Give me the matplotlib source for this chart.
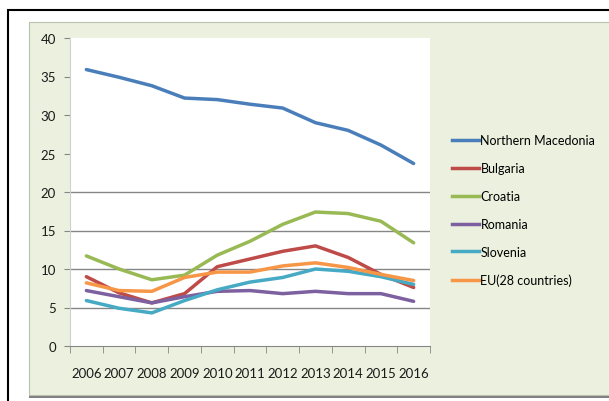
import matplotlib
matplotlib.use("Agg")
import matplotlib.pyplot as plt
from matplotlib.patches import Rectangle
from matplotlib.lines import Line2D
import numpy as np

years = ["2006", "2007", "2008", "2009", "2010", "2011",
         "2012", "2013", "2014", "2015", "2016"]

north_macedonia = [35.9, 34.9, 33.8, 32.2, 32.0, 31.4, 30.9, 29.0, 28.0, 26.1, 23.7]
bulgaria = [9.0, 6.9, 5.6, 6.8, 10.3, 11.3, 12.3, 13.0, 11.5, 9.3, 7.6]
croatia = [11.7, 10.0, 8.6, 9.2, 11.8, 13.6, 15.8, 17.4, 17.2, 16.2, 13.4]
romania = [7.2, 6.4, 5.6, 6.4, 7.1, 7.2, 6.8, 7.1, 6.8, 6.8, 5.8]
slovenia = [5.9, 4.9, 4.3, 5.9, 7.3, 8.3, 8.9, 10.0, 9.7, 9.0, 8.0]
eu28 = [8.2, 7.2, 7.1, 8.9, 9.6, 9.6, 10.4, 10.8, 10.2, 9.3, 8.5]

series = [
    ("Northern Macedonia", north_macedonia, "#4A7EBB"),
    ("Bulgaria", bulgaria, "#BE4B48"),
    ("Croatia", croatia, "#98B954"),
    ("Romania", romania, "#7D60A0"),
    ("Slovenia", slovenia, "#46AAC5"),
    ("EU(28 countries)", eu28, "#F79646"),
]

plt.rcParams['font.family'] = ['Lato', 'DejaVu Sans']

fig = plt.figure(figsize=(6.09, 4.02), dpi=100)
W, H = 609.0, 402.0

# outer frame and green chart area with a grey shadow underneath
fig.patches.append(Rectangle((8 / W, -0.1), 1, 1.1 - 11 / H, transform=fig.transFigure,
                             facecolor="white", edgecolor="black", linewidth=1.5, zorder=0))
fig.patches.append(Rectangle((29 / W, 1 - 399 / H), 1, 4 / H, transform=fig.transFigure,
                             facecolor="#808080", edgecolor="none", zorder=0))
fig.patches.append(Rectangle((29 / W, 1 - 396 / H), 1, (396 - 23) / H, transform=fig.transFigure,
                             facecolor="#EBF1DE", edgecolor="#b8c0b0", linewidth=0.8, zorder=0))

ax = fig.add_axes([70 / W, 1 - 347 / H, 360 / W, (347 - 39) / H])
ax.set_zorder(5)
ax.set_facecolor("white")

x = np.arange(len(years))
for name, vals, col in series:
    ax.plot(x, vals, color=col, linewidth=2.5, label=name, solid_capstyle="round", zorder=3)

ax.set_xlim(-0.5, len(years) - 0.5)
ax.set_ylim(0, 40)
ax.set_yticks(np.arange(0, 41, 5))
ax.set_xticks(x)
ax.set_xticklabels(years)
ax.set_xticks(np.arange(-0.5, len(years), 1), minor=True)
ax.tick_params(axis="x", which="major", length=0, pad=15, labelsize=9.5, colors="#1a1a1a")
ax.tick_params(axis="x", which="minor", length=5, color="#868686", direction="out")
ax.tick_params(axis="y", length=4, color="#868686", pad=6, labelsize=9.5, labelcolor="#1a1a1a")

for g in [5, 10, 15, 20]:
    ax.axhline(g, color="#868686", linewidth=1, zorder=1)

for s in ["top", "right"]:
    ax.spines[s].set_visible(False)
ax.spines["left"].set_color("#d0d0d0")
ax.spines["bottom"].set_color("#868686")

handles = [Line2D([], [], color=c, linewidth=2.5) for _, _, c in series]
leg = fig.legend(handles, [n for n, _, _ in series], loc="upper left",
                 bbox_to_anchor=(441 / W, 1 - 124 / H), frameon=False,
                 fontsize=9, handlelength=2.1, handletextpad=0.15, labelspacing=1.27)
leg.set_zorder(6)

fig.savefig("out.png", dpi=100)
